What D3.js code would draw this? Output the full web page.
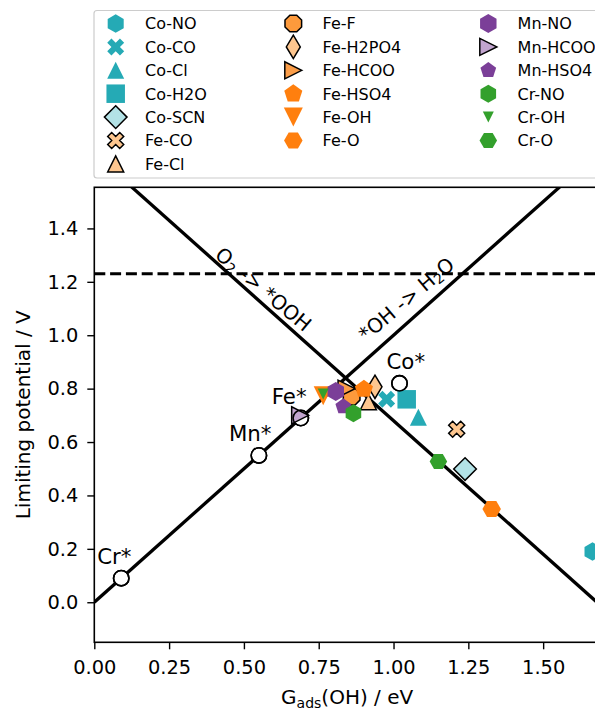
<!DOCTYPE html>
<html lang="en">
<head>
<meta charset="UTF-8">
<title>Limiting potential vs G_ads(OH)</title>
<script src="https://d3js.org/d3.v7.min.js"></script>
<style>
  body { margin: 0; background: white; }
  text { font-family: "DejaVu Sans", sans-serif; fill: #000; }
</style>
</head>
<body>
<script>
// adsorbate-modified sites
var names = ["Co-NO", "Co-CO", "Co-Cl", "Co-H2O", "Co-SCN", "Fe-CO", "Fe-Cl",
             "Fe-F", "Fe-H2PO4", "Fe-HCOO", "Fe-HSO4", "Fe-OH", "Fe-O",
             "Mn-NO", "Mn-HCOO", "Mn-HSO4", "Cr-NO", "Cr-OH", "Cr-O"];
var gOH  = [1.665, 0.977, 1.083, 1.044, 1.239, 1.211, 0.916,
            0.860, 0.938, 0.843, 0.901, 0.765, 1.328,
            0.807, 0.688, 0.832, 0.866, 0.765, 1.150];
var uLim = [0.19, 0.76, 0.693, 0.76, 0.499, 0.648, 0.751,
            0.770, 0.807, 0.80, 0.798, 0.773, 0.349,
            0.789, 0.70, 0.733, 0.708, 0.78, 0.527];

// bare metal sites
var metals = ["Cr*", "Mn*", "Fe*", "Co*"];
var metalG = [0.09, 0.55, 0.69, 1.02];
var metalU = [0.09, 0.55, 0.69, 0.82];

var xTicks = [0, 0.25, 0.5, 0.75, 1.0, 1.25, 1.5];
var yTicks = [0, 0.2, 0.4, 0.6, 0.8, 1.0, 1.2, 1.4];

var eqU = 1.23;       // equilibrium potential
var oohShift = 1.68;  // O2 -> *OOH branch: U = 1.68 - G(OH)

// ---- styles ----
var teal = "#25aab5", orange = "#ff7f0e", purple = "#7b3f98", green = "#33a02c";
var peach = "#fdc68f", lightOrange = "#fd9a3c";
var style = {
  "Co-NO":    {shape: "h", ms: 18.5, fill: teal},
  "Co-CO":    {shape: "X", ms: 18,   fill: teal},
  "Co-Cl":    {shape: "^", ms: 17,   fill: teal},
  "Co-H2O":   {shape: "s", ms: 18.5, fill: teal},
  "Co-SCN":   {shape: "D", ms: 16,   fill: "#b3e2e6", edge: true},
  "Fe-CO":    {shape: "X", ms: 17,   fill: peach, edge: true},
  "Fe-Cl":    {shape: "^", ms: 16,   fill: peach, edge: true},
  "Fe-F":     {shape: "8", ms: 18,   fill: lightOrange, edge: true},
  "Fe-H2PO4": {shape: "d", ms: 16.5, fill: peach, edge: true},
  "Fe-HCOO":  {shape: ">", ms: 17,   fill: "#fb9d48", edge: true},
  "Fe-HSO4":  {shape: "p", ms: 19,   fill: orange},
  "Fe-OH":    {shape: "v", ms: 19,   fill: orange},
  "Fe-O":     {shape: "H", ms: 18.5, fill: orange},
  "Mn-NO":    {shape: "h", ms: 19,   fill: purple},
  "Mn-HCOO":  {shape: ">", ms: 17,   fill: "#c2a5cf", edge: true},
  "Mn-HSO4":  {shape: "p", ms: 16.5, fill: purple},
  "Cr-NO":    {shape: "h", ms: 18,   fill: green},
  "Cr-OH":    {shape: "v", ms: 11,   fill: green},
  "Cr-O":     {shape: "H", ms: 17.5, fill: green}
};
var metalLabelDx = {"Cr*": -24, "Mn*": -30, "Fe*": -29, "Co*": -13};

function poly(n, r, startDeg) {
  return d3.range(n).map(function(i) {
    var a = (startDeg + i * 360 / n) * Math.PI / 180;
    return [r * Math.cos(a), -r * Math.sin(a)];
  });
}

function markerPath(shape, ms) {
  var r = ms / 2, pts;
  if (shape == "h") pts = poly(6, r, 90);
  else if (shape == "H") pts = poly(6, r, 0);
  else if (shape == "p") pts = poly(5, r, 90);
  else if (shape == "8") pts = poly(8, r, 22.5);
  else if (shape == "^") pts = [[0, -r], [-r, r], [r, r]];
  else if (shape == "v") pts = [[0, r], [-r, -r], [r, -r]];
  else if (shape == ">") pts = [[r, 0], [-r, -r], [-r, r]];
  else if (shape == "s") pts = [[-r, -r], [r, -r], [r, r], [-r, r]];
  else if (shape == "D" || shape == "d") {
    var h = ms * 0.7071, w = shape == "d" ? h * 0.6 : h;
    pts = [[0, -h], [w, 0], [0, h], [-w, 0]];
  } else if (shape == "X") {
    var base = [[-1,-3],[1,-3],[1,-1],[3,-1],[3,1],[1,1],[1,3],[-1,3],[-1,1],[-3,1],[-3,-1],[-1,-1]];
    var c = Math.cos(Math.PI / 4), s = Math.sin(Math.PI / 4);
    pts = base.map(function(p) {
      var px = p[0] / 6 * ms, py = p[1] / 6 * ms;
      return [px * c - py * s, px * s + py * c];
    });
  }
  return "M" + pts.map(function(p) { return p[0].toFixed(2) + "," + p[1].toFixed(2); }).join("L") + "Z";
}

var W = 595, H = 708;
var m = {left: 94.3, top: 187.3, right: 600, bottom: 642.3};

var svg = d3.select("body").append("svg")
  .attr("width", W).attr("height", H)
  .style("background", "white");

var x = d3.scaleLinear().domain([0, 1.69]).range([m.left, m.right]);
var y = d3.scaleLinear().domain([-0.15, 1.554]).range([m.bottom, m.top]);

svg.append("clipPath").attr("id", "plotclip")
  .append("rect").attr("x", m.left).attr("y", m.top)
  .attr("width", m.right - m.left).attr("height", m.bottom - m.top);

var plot = svg.append("g").attr("clip-path", "url(#plotclip)");

// volcano branches
var line = d3.line().x(function(d) { return x(d[0]); }).y(function(d) { return y(d[1]); });
var gRange = x.domain();
plot.append("path")
  .attr("d", line(gRange.map(function(g) { return [g, g]; })))
  .attr("stroke", "black").attr("stroke-width", 3.3).attr("fill", "none");
plot.append("path")
  .attr("d", line(gRange.map(function(g) { return [g, oohShift - g]; })))
  .attr("stroke", "black").attr("stroke-width", 3.3).attr("fill", "none");
plot.append("path")
  .attr("d", line(gRange.map(function(g) { return [g, eqU]; })))
  .attr("stroke", "black").attr("stroke-width", 3.1).attr("fill", "none")
  .attr("stroke-dasharray", "11,4.8");

// branch labels
var lab1 = plot.append("text")
  .attr("transform", "translate(" + x(0.550) + "," + y(1.152) + ") rotate(40)")
  .attr("text-anchor", "middle").style("font-size", "20px");
lab1.append("tspan").text("O");
lab1.append("tspan").attr("baseline-shift", "-22%").style("font-size", "14px").text("2");
lab1.append("tspan").text(" -> *OOH");

var lab2 = plot.append("text")
  .attr("transform", "translate(" + x(1.058) + "," + y(1.115) + ") rotate(-40)")
  .attr("text-anchor", "middle").style("font-size", "20px");
lab2.append("tspan").text("*OH -> H");
lab2.append("tspan").attr("baseline-shift", "-22%").style("font-size", "14px").text("2");
lab2.append("tspan").text("O");

// bare metal circles (white fill under markers)
plot.selectAll("circle.metal")
  .data(metals)
  .join("circle")
  .attr("class", "metal")
  .attr("cx", function(d, i) { return x(metalG[i]); })
  .attr("cy", function(d, i) { return y(metalU[i]); })
  .attr("r", 7.7)
  .attr("fill", "white").attr("stroke", "black").attr("stroke-width", 1.6);

// adsorbate markers
plot.selectAll("path.pt")
  .data(names)
  .join("path")
  .attr("class", "pt")
  .attr("transform", function(d, i) { return "translate(" + x(gOH[i]) + "," + y(uLim[i]) + ")"; })
  .attr("d", function(d) { return markerPath(style[d].shape, style[d].ms); })
  .attr("fill", function(d) { return style[d].fill; })
  .attr("stroke", function(d) { return style[d].edge ? "black" : "none"; })
  .attr("stroke-width", 1.5)
  .attr("stroke-linejoin", "miter");

// circle outlines on top
plot.selectAll("circle.ring")
  .data(metals)
  .join("circle")
  .attr("class", "ring")
  .attr("cx", function(d, i) { return x(metalG[i]); })
  .attr("cy", function(d, i) { return y(metalU[i]); })
  .attr("r", 7.7)
  .attr("fill", "none").attr("stroke", "black").attr("stroke-width", 1.6);

plot.selectAll("text.metal")
  .data(metals)
  .join("text")
  .attr("class", "metal")
  .attr("x", function(d, i) { return x(metalG[i]) + metalLabelDx[d]; })
  .attr("y", function(d, i) { return y(metalU[i]) - 14; })
  .style("font-size", "21.3px")
  .text(function(d) { return d; });

// axes
var xAxis = svg.append("g").attr("transform", "translate(0," + m.bottom + ")")
  .call(d3.axisBottom(x).tickValues(xTicks).tickFormat(d3.format(".2f"))
        .tickSize(7).tickPadding(10.7).tickSizeOuter(0));
var yAxis = svg.append("g").attr("transform", "translate(" + m.left + ",0)")
  .call(d3.axisLeft(y).tickValues(yTicks).tickFormat(d3.format(".1f"))
        .tickSize(7).tickPadding(9).tickSizeOuter(0));
[xAxis, yAxis].forEach(function(a) {
  a.selectAll("text").style("font-size", "19.4px").style("font-family", "DejaVu Sans").attr("fill", "black");
  a.selectAll("line").attr("stroke-width", 1.4);
  a.select(".domain").remove();
});

// spines
svg.append("rect")
  .attr("x", m.left).attr("y", m.top)
  .attr("width", m.right - m.left).attr("height", m.bottom - m.top)
  .attr("fill", "none").attr("stroke", "black").attr("stroke-width", 1.6);

// axis labels
var xl = svg.append("text")
  .attr("x", (m.left + m.right) / 2).attr("y", 703.5)
  .attr("text-anchor", "middle").style("font-size", "20px");
xl.append("tspan").text("G");
xl.append("tspan").attr("baseline-shift", "-30%").style("font-size", "14px").text("ads");
xl.append("tspan").text("(OH) / eV");

svg.append("text")
  .attr("transform", "translate(30," + ((m.top + m.bottom) / 2) + ") rotate(-90)")
  .attr("text-anchor", "middle").style("font-size", "20px")
  .text("Limiting potential / V");

// legend, 3 columns filled top to bottom
var legend = svg.append("g");
legend.append("rect")
  .attr("x", 94).attr("y", 10.5).attr("width", 520).attr("height", 167.5)
  .attr("rx", 3).attr("fill", "white").attr("stroke", "#cccccc").attr("stroke-width", 1.2);

var colMarkerX = [115.7, 293.3, 488.3], colTextX = [145, 323.3, 518.3];
var colSizes = [7, 6, 6];
var items = legend.selectAll("g.item")
  .data(names)
  .join("g")
  .attr("class", "item")
  .attr("transform", function(d, i) {
    var c = 0, k = i;
    while (k >= colSizes[c]) { k -= colSizes[c]; c++; }
    return "translate(" + colMarkerX[c] + "," + (23.5 + k * 23.4) + ")";
  });
items.append("path")
  .attr("d", function(d) { return markerPath(style[d].shape, style[d].ms); })
  .attr("fill", function(d) { return style[d].fill; })
  .attr("stroke", function(d) { return style[d].edge ? "black" : "none"; })
  .attr("stroke-width", 1.5);
items.append("text")
  .attr("x", colTextX[0] - colMarkerX[0])
  .attr("y", 5.8)
  .style("font-size", "16px")
  .text(function(d) { return d; });
</script>
</body>
</html>
